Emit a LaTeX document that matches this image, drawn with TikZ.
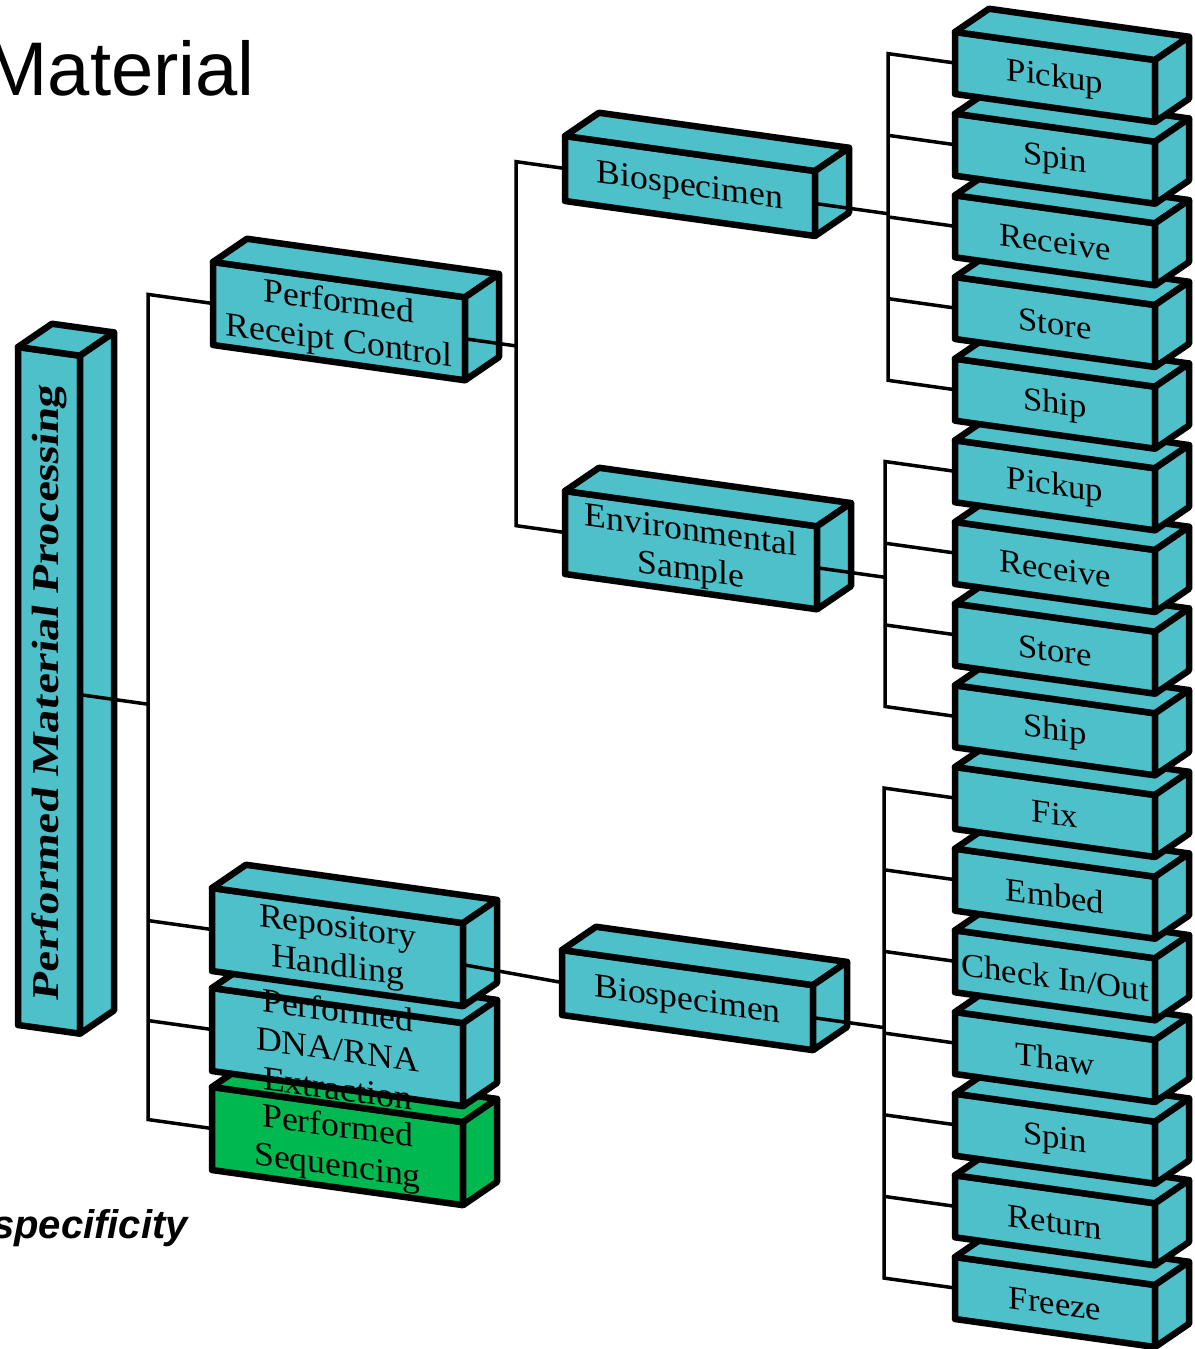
\documentclass[tikz,border=0pt]{standalone}
\usepackage{fontspec}
\setmainfont{Liberation Serif}[FakeStretch=1.05]
\newfontfamily\sansf{Liberation Sans}
\usetikzlibrary{calc}
\definecolor{teal3d}{RGB}{78,192,202}
\definecolor{green3d}{RGB}{0,184,80}
\tikzset{
  boxline/.style={draw=black, line width=6.5pt, line join=round},
  lbl/.style={transform shape, align=center, inner sep=0pt, font=\fontsize{34}{39}\selectfont},
  rlbl/.style={lbl, font=\fontsize{33}{38}\selectfont},
  bartxt/.style={lbl, rotate=90, font=\fontsize{38}{40}\selectfont},
  conn/.style={draw=black, line width=3.5pt, line join=miter, line cap=butt},
}
% #1 node opts, #2 name, #3 x0, #4 sheared top y, #5 w, #6 h, #7 fill, #8 text
\newcommand\cuboid[8][]{%
  \pgfmathsetmacro\cbx{#3}%
  \pgfmathsetmacro\cby{#4-0.14*#3}%
  \filldraw[boxline, fill=#7] (\cbx,\cby) -- ++(#5,0) -- ++(0,#6) -- ++(-#5,0) -- cycle;
  \filldraw[boxline, fill=#7] (\cbx,\cby) -- ++(34,-28) -- ++(#5,0) -- ++(-34,28) -- cycle;
  \filldraw[boxline, fill=#7] ({\cbx+#5},\cby) -- ++(34,-28) -- ++(0,#6) -- ++(-34,28) -- cycle;
  \node[lbl,#1] (#2) at ({\cbx+#5/2},{\cby+#6/2+2}) {#8};
  \coordinate (#2-l) at (\cbx,{\cby+#6/2});
  \coordinate (#2-r) at ({\cbx+#5},{\cby+#6/2});
}
\begin{document}
\begin{tikzpicture}[x=1pt,y=-1pt]
\useasboundingbox (0,0) rectangle (1194,1349);
\clip (0,0) rectangle (1194,1349);
\fill[white] (0,0) rectangle (1194,1349);
\begin{scope}[yslant=-0.14]
  % left bar
  \cuboid[bartxt]{bar}{18}{347}{62}{678}{teal3d}{\resizebox{615pt}{\height}{\bfseries Performed Material Processing}}
  % second level
  \cuboid{prc}{213}{262}{252}{83}{teal3d}{Performed\\Receipt Control}
  \cuboid{seq}{212}{1087}{251}{83}{green3d}{Performed\\Sequencing}
  \cuboid{dna}{212}{988}{251}{83}{teal3d}{Performed\\DNA/RNA\\Extraction}
  \cuboid{rep}{212}{888}{251}{83}{teal3d}{Repository\\Handling}
  % third level
  \cuboid{bio1}{565}{136}{250}{65}{teal3d}{Biospecimen}
  \cuboid{env}{565}{491}{252}{83}{teal3d}{Environmental\\Sample}
  \cuboid{bio2}{562}{950}{251}{65}{teal3d}{Biospecimen}
  % right column (bottom first)
  \cuboid[rlbl]{r15}{955}{1257}{200}{62}{teal3d}{Freeze}
  \cuboid[rlbl]{r14}{955}{1175.3}{200}{62}{teal3d}{Return}
  \cuboid[rlbl]{r13}{955}{1093.7}{200}{62}{teal3d}{Spin}
  \cuboid[rlbl]{r12}{955}{1012}{200}{62}{teal3d}{Thaw}
  \cuboid[rlbl]{r11}{955}{930.3}{200}{62}{teal3d}{Check In/Out}
  \cuboid[rlbl]{r10}{955}{848.7}{200}{62}{teal3d}{Embed}
  \cuboid[rlbl]{r9}{955}{767}{200}{62}{teal3d}{Fix}
  \cuboid[rlbl]{r8}{955}{685.3}{200}{62}{teal3d}{Ship}
  \cuboid[rlbl]{r7}{955}{603.7}{200}{62}{teal3d}{Store}
  \cuboid[rlbl]{r6}{955}{522}{200}{62}{teal3d}{Receive}
  \cuboid[rlbl]{r5}{955}{440.3}{200}{62}{teal3d}{Pickup}
  \cuboid[rlbl]{r4}{955}{358.7}{200}{62}{teal3d}{Ship}
  \cuboid[rlbl]{r3}{955}{277}{200}{62}{teal3d}{Store}
  \cuboid[rlbl]{r2}{955}{195.3}{200}{62}{teal3d}{Receive}
  \cuboid[rlbl]{r1}{955}{113.7}{200}{62}{teal3d}{Spin}
  \cuboid[rlbl]{r0}{955}{32}{200}{62}{teal3d}{Pickup}
  % bus 1
  \coordinate (j1p) at ($(bar-r)+(68,0)$);
  \coordinate (j1a) at ($(prc-l)+(-65,0)$);
  \coordinate (j1b) at ($(rep-l)+(-64,0)$);
  \coordinate (j1c) at ($(dna-l)+(-64,0)$);
  \coordinate (j1d) at ($(seq-l)+(-64,0)$);
  \draw[conn] (prc-l) -- (j1a) -- (j1d) -- (seq-l);
  \draw[conn] (bar-r) -- (j1p);
  \draw[conn] (rep-l) -- (j1b);
  \draw[conn] (dna-l) -- (j1c);
  % bus 2
  \coordinate (j2p) at ($(prc-r)+(51,0)$);
  \coordinate (j2a) at ($(bio1-l)+(-49,0)$);
  \coordinate (j2b) at ($(env-l)+(-49,0)$);
  \draw[conn] (bio1-l) -- (j2a) -- (j2b) -- (env-l);
  \draw[conn] (prc-r) -- (j2p);
  % repository -> biospecimen
  \draw[conn] (rep-r) -- (bio2-l);
  % bus 3
  \coordinate (j3p) at ($(bio1-r)+(73,0)$);
  \foreach \n in {0,...,4} {\coordinate (j3-\n) at ($(r\n-l)+(-67,0)$);}
  \draw[conn] (r0-l) -- (j3-0) -- (j3-4) -- (r4-l);
  \foreach \n in {1,2,3} {\draw[conn] (j3-\n) -- (r\n-l);}
  \draw[conn] (bio1-r) -- (j3p);
  % bus 4
  \coordinate (j4p) at ($(env-r)+(68,0)$);
  \foreach \n in {5,...,8} {\coordinate (j4-\n) at ($(r\n-l)+(-70,0)$);}
  \draw[conn] (r5-l) -- (j4-5) -- (j4-8) -- (r8-l);
  \foreach \n in {6,7} {\draw[conn] (j4-\n) -- (r\n-l);}
  \draw[conn] (env-r) -- (j4p);
  % bus 5
  \coordinate (j5p) at ($(bio2-r)+(71,0)$);
  \foreach \n in {9,...,15} {\coordinate (j5-\n) at ($(r\n-l)+(-71,0)$);}
  \draw[conn] (r9-l) -- (j5-9) -- (j5-15) -- (r15-l);
  \foreach \n in {10,...,14} {\draw[conn] (j5-\n) -- (r\n-l);}
  \draw[conn] (bio2-r) -- (j5p);
\end{scope}
\node[anchor=base east, inner sep=0pt, font=\sansf\fontsize{76}{80}\selectfont] (title) at (255,95) {Material};
\node[anchor=base east, inner sep=0pt, font=\sansf\bfseries\itshape\fontsize{40}{44}\selectfont] (spec) at (188,1238) {specificity};
\end{tikzpicture}
\end{document}
